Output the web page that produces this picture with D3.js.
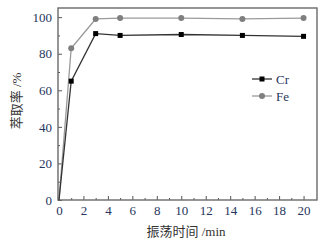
<!DOCTYPE html>
<html>
<head>
<meta charset="utf-8">
<script src="https://cdn.jsdelivr.net/npm/d3@7"></script>
<style>
  body { margin: 0; background: #fff; }
</style>
</head>
<body>
<svg id="svg" width="330" height="242"></svg>
<script>
var times = [0, 1, 3, 5, 10, 15, 20];
var crValues = [0, 65, 91, 90, 90.5, 90, 89.5];
var feValues = [0, 83, 99, 99.5, 99.5, 99, 99.5];
var xTicks = [0, 2, 4, 6, 8, 10, 12, 14, 16, 18, 20];
var yTicks = [0, 20, 40, 60, 80, 100];
var seriesNames = ['Cr', 'Fe'];

// plot box (window.top is read-only, so no "top" here)
var pLeft = 58, pRight = 317, pTop = 8, pBottom = 200;
var labelColor = '#27365e';
var serif = '"Liberation Serif", "DejaVu Serif", serif';

var s = d3.select('#svg').attr('font-family', serif);
var x = d3.scaleLinear().domain([-0.08, 21.1]).range([pLeft, pRight]);
var y = d3.scaleLinear().domain([0, 105]).range([pBottom, pTop]);

// minor ticks
s.append('g')
    .attr('transform', 'translate(0,' + pBottom + ')')
    .call(d3.axisTop(x).tickValues(d3.range(1, 21, 2)).tickSize(2).tickFormat(''))
    .call(function(g){ g.select('.domain').remove(); g.selectAll('line').attr('stroke', '#555'); });
s.append('g')
    .attr('transform', 'translate(' + pLeft + ',0)')
    .call(d3.axisRight(y).tickValues(d3.range(10, 105, 20)).tickSize(2).tickFormat(''))
    .call(function(g){ g.select('.domain').remove(); g.selectAll('line').attr('stroke', '#555'); });

// major ticks
var xa = s.append('g')
    .attr('transform', 'translate(0,' + pBottom + ')')
    .call(d3.axisBottom(x).tickValues(xTicks).tickSizeInner(-4).tickSizeOuter(0).tickPadding(6));
var ya = s.append('g')
    .attr('transform', 'translate(' + pLeft + ',0)')
    .call(d3.axisLeft(y).tickValues(yTicks).tickSizeInner(-4).tickSizeOuter(0).tickPadding(6));
[xa, ya].forEach(function(g){
    g.attr('font-family', serif).attr('font-size', 13);
    g.select('.domain').remove();
    g.selectAll('line').attr('stroke', '#555');
    g.selectAll('text').attr('fill', labelColor);
});

// frame
s.append('rect')
    .attr('x', pLeft).attr('y', pTop)
    .attr('width', pRight - pLeft).attr('height', pBottom - pTop)
    .attr('fill', 'none').attr('stroke', '#6a6a6a').attr('stroke-width', 1.4);

var line = d3.line().x(function(d){ return x(d[0]); }).y(function(d){ return y(d[1]); });
var fe = times.map(function(t, i){ return [t, feValues[i]]; });
var cr = times.map(function(t, i){ return [t, crValues[i]]; });

s.append('path').attr('d', line(fe)).attr('fill', 'none').attr('stroke', '#9a9a9a').attr('stroke-width', 1.3);
s.append('path').attr('d', line(cr)).attr('fill', 'none').attr('stroke', '#333').attr('stroke-width', 1.3);

// the origin point sits on the axis corner and shows no marker
function shown(d){ return d[1] > 0; }
s.selectAll('.fe').data(fe.filter(shown)).enter().append('circle')
    .attr('cx', function(d){ return x(d[0]); })
    .attr('cy', function(d){ return y(d[1]); })
    .attr('r', 3).attr('fill', '#7f7f7f');
s.selectAll('.cr').data(cr.filter(shown)).enter().append('rect')
    .attr('x', function(d){ return x(d[0]) - 2.5; })
    .attr('y', function(d){ return y(d[1]) - 2.5; })
    .attr('width', 5).attr('height', 5).attr('fill', '#000');

// legend
var lg = s.append('g').attr('transform', 'translate(252,79)');
seriesNames.forEach(function(n, i){
    var g = lg.append('g').attr('transform', 'translate(0,' + (i * 17) + ')');
    g.append('line').attr('x1', 0).attr('x2', 20).attr('y1', 0).attr('y2', 0)
        .attr('stroke', i === 0 ? '#333' : '#9a9a9a').attr('stroke-width', 1.3);
    if (i === 0) {
        g.append('rect').attr('x', 7.5).attr('y', -2.5).attr('width', 5).attr('height', 5).attr('fill', '#000');
    } else {
        g.append('circle').attr('cx', 10).attr('cy', 0).attr('r', 3).attr('fill', '#7f7f7f');
    }
    g.append('text').attr('x', 24).attr('y', 5).attr('font-size', 13)
        .attr('font-family', serif).attr('fill', labelColor).text(n);
});

// axis titles
s.append('text')
    .attr('x', 186).attr('y', 236)
    .attr('text-anchor', 'middle')
    .attr('font-size', 13)
    .attr('fill', '#333')
    .attr('font-family', '"Liberation Serif", "Noto Sans CJK SC", serif')
    .text('振荡时间 /min');
s.append('text')
    .attr('transform', 'translate(21,101) rotate(-90)')
    .attr('text-anchor', 'middle')
    .attr('font-size', 13)
    .attr('fill', '#333')
    .attr('font-family', '"Liberation Serif", "Noto Sans CJK SC", serif')
    .text('萃取率 /%');
</script>
</body>
</html>
